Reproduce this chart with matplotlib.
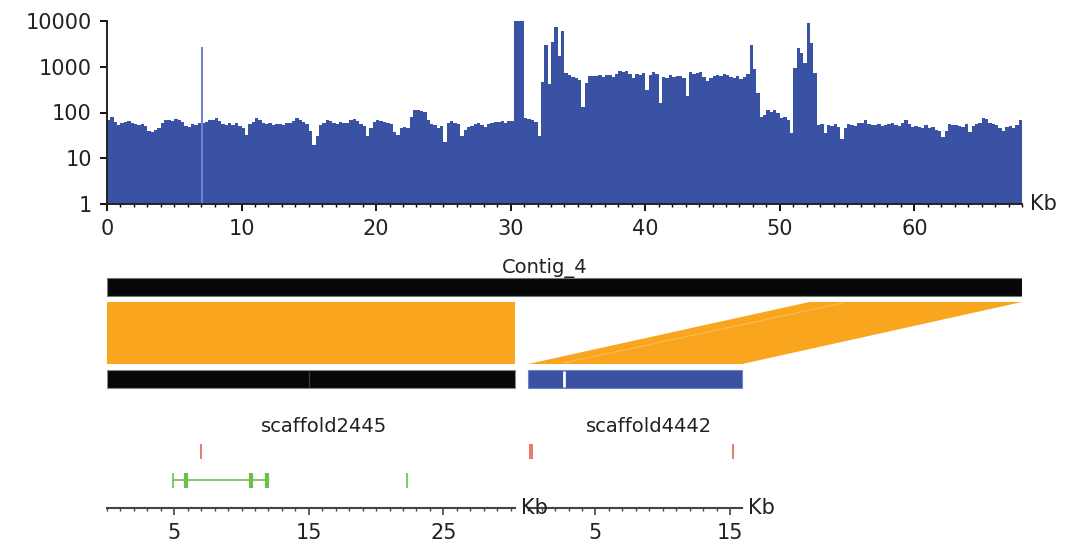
import matplotlib
matplotlib.use("Agg")
import matplotlib.pyplot as plt
from matplotlib.ticker import MultipleLocator, FixedLocator, NullLocator

# coverage along Contig_4, 0.25 kb bins (one row per kb)
bin_kb = 0.25
coverage = [
    69, 80, 62, 53,   60, 62, 64, 58,   55, 52, 57, 50,   40, 38, 42, 45,
    60, 68, 70, 66,   72, 68, 62, 50,   48, 55, 52, 58,   60, 62, 68, 70,
    75, 64, 55, 52,   58, 54, 60, 50,   45, 32, 55, 62,   75, 70, 60, 55,
    58, 52, 55, 56,   54, 58, 60, 66,   75, 70, 62, 55,   40, 19.5, 30, 52,
    58, 69, 66, 60,   55, 62, 58, 60,   69, 72, 65, 55,   50, 30, 45, 62,
    70, 66, 62, 58,   55, 38, 33, 45,   48, 45, 80, 113,  115, 110, 105, 70,
    55, 52, 45, 50,   23, 60, 64, 58,   55, 30, 42, 48,   50, 55, 58, 52,
    48, 55, 58, 62,   62, 66, 60, 64,   64, 10000, 10000, 10000,  75, 72, 70, 62,
    30, 470, 3000, 410,   3500, 7500, 1700, 6000,   730, 650, 600, 560,   520, 133, 450, 640,
    620, 640, 670, 600,   670, 650, 600, 680,   790, 760, 820, 700,   560, 680, 650, 720,
    310, 650, 760, 700,   160, 600, 560, 650,   600, 620, 640, 580,   230, 760, 700, 740,
    760, 600, 500, 560,   620, 670, 640, 680,   650, 600, 560, 620,   540, 600, 680, 3000,
    900, 270, 81, 90,   113, 105, 113, 100,   75, 80, 70, 36,   930, 2600, 2000, 1200,
    9200, 3300, 740, 53,   55, 36, 53, 50,   55, 48, 26, 45,   55, 52, 50, 58,
    60, 67, 55, 53,   52, 55, 50, 53,   55, 58, 52, 50,   60, 67, 55, 48,
    50, 48, 45, 52,   45, 48, 42, 40,   29, 40, 55, 52,   53, 50, 48, 55,
    38, 50, 55, 60,   75, 72, 60, 55,   52, 45, 40, 48,   50, 47, 52, 69,
]
spike_kb = [7.03]
spike_cov = [2700]

contig_name = "Contig_4"
contig_len = 68.0
scaffolds = ["scaffold2445", "scaffold4442"]
scaffold_len = [30.3, 15.9]
scaffold_gap = 1.0
scaffold_ticks = [[5, 15, 25], [5, 15]]
# alignments: contig start/end -> scaffold index, scaffold start/end
aln_contig = [(0.0, 30.3), (52.2, 68.0)]
aln_scaf = [(0, 0.0, 30.3), (1, 0.0, 15.9)]
seams = [(0, 15.0), (1, 2.7)]
red_marks = [(0, 7.0), (1, 0.1), (1, 0.32), (1, 15.2)]
green_thin = [(0, 4.9), (0, 22.3)]
green_thick = [(0, 5.9), (0, 10.7), (0, 11.9)]
green_span = (0, 4.9, 11.9)

BLUE = "#3a52a3"
ORANGE = "#f9a51e"
RED = "#e5573f"
GREEN = "#6cc04a"
TXT = "#222222"

W, H = 1065, 552
fig = plt.figure(figsize=(W / 100, H / 100), dpi=100)


def box(x0, y0, x1, y1):
    return [x0 / W, 1 - y1 / H, (x1 - x0) / W, (y1 - y0) / H]


L, R = 107, 1022
PX = (R - L) / contig_len

# coverage panel
ax = fig.add_axes(box(L, 21, R, 204))
edges = [i * bin_kb for i in range(len(coverage) + 1)]
ax.stairs(coverage, edges, fill=True, baseline=1, color=BLUE)
ax.bar(spike_kb, spike_cov, width=0.15, bottom=1, color="#6f83cc")
ax.set_yscale("log")
ax.set_ylim(1, 10000)
ax.set_xlim(0, contig_len)
ax.set_yticks([1, 10, 100, 1000, 10000])
ax.set_yticklabels(["1", "10", "100", "1000", "10000"])
ax.yaxis.set_minor_locator(NullLocator())
ax.xaxis.set_major_locator(MultipleLocator(10))
ax.xaxis.set_minor_locator(MultipleLocator(1))
for s in ["top", "right"]:
    ax.spines[s].set_visible(False)
for s in ["left", "bottom"]:
    ax.spines[s].set_linewidth(1.4)
    ax.spines[s].set_color("#222222")
ax.tick_params(axis="both", which="major", labelsize=15, labelcolor=TXT, length=5, width=1.3, pad=6)
ax.tick_params(axis="x", which="minor", length=2.5, width=1)
ax.set_facecolor("none")
fig.text(1030 / W, 1 - 204 / H, "Kb", fontsize=15, color=TXT, va="center", ha="left")

# alignment tracks
ax2 = fig.add_axes(box(L, 0, R, H))
ax2.set_xlim(0, contig_len)
ax2.set_ylim(H, 0)
ax2.axis("off")

offsets = [0.0, scaffold_len[0] + scaffold_gap]
ax2.text(32.5, 268, contig_name, fontsize=14, color=TXT, ha="center", va="center")
ax2.barh(287, contig_len, left=0, height=18, color="#050708", edgecolor="#777777", linewidth=0.8)

for (c0, c1), (si, s0, s1) in zip(aln_contig, aln_scaf):
    off = offsets[si]
    ax2.fill([c0, c1, off + s1, off + s0], [302, 302, 364, 364], color=ORANGE, lw=0)
ax2.plot([offsets[1] + 2.6, 54.7], [363, 303], color="#fbbd5a", lw=0.8)

scaf_colors = ["#050708", BLUE]
for i, name in enumerate(scaffolds):
    ax2.barh(379, scaffold_len[i], left=offsets[i], height=18, color=scaf_colors[i],
             edgecolor="#8a8a8a" if i == 0 else "#6f82c8", linewidth=0.8)
    ax2.text(offsets[i] + scaffold_len[i] / 2 + 1.0, 427, name, fontsize=14, color=TXT,
             ha="center", va="center")
ax2.vlines(offsets[0] + seams[0][1], 371, 387, color="#3a3a3a", lw=1)
ax2.vlines(offsets[1] + seams[1][1], 371, 387, color="white", lw=2)

for si, p in red_marks:
    ax2.vlines(offsets[si] + p, 444, 459, color=RED, lw=1.1)

si, g0, g1 = green_span
ax2.hlines(480, offsets[si] + g0, offsets[si] + g1, color=GREEN, lw=1.2)
for si, p in green_thin:
    ax2.vlines(offsets[si] + p, 473, 488, color=GREEN, lw=1.2)
for si, p in green_thick:
    ax2.vlines(offsets[si] + p, 473, 488, color=GREEN, lw=3)

# scaffold rulers
for i in range(len(scaffolds)):
    x0 = L + offsets[i] * PX
    x1 = x0 + scaffold_len[i] * PX
    r = fig.add_axes(box(x0, 507, x1, 508))
    r.set_xlim(0, scaffold_len[i])
    r.set_yticks([])
    r.set_facecolor("none")
    for s in ["top", "right", "left"]:
        r.spines[s].set_visible(False)
    r.spines["bottom"].set_color("#444444")
    r.spines["bottom"].set_linewidth(1.5)
    r.xaxis.set_major_locator(FixedLocator(scaffold_ticks[i]))
    r.xaxis.set_minor_locator(MultipleLocator(1))
    r.tick_params(axis="x", which="major", labelsize=15, labelcolor=TXT, length=5, width=1.2,
                  color="#444444", pad=6)
    r.tick_params(axis="x", which="minor", length=2.5, width=1, color="#444444")
    fig.text((x1 + 6) / W, 1 - 508 / H, "Kb", fontsize=15, color=TXT, va="center", ha="left")

fig.savefig("out.png", dpi=100)
